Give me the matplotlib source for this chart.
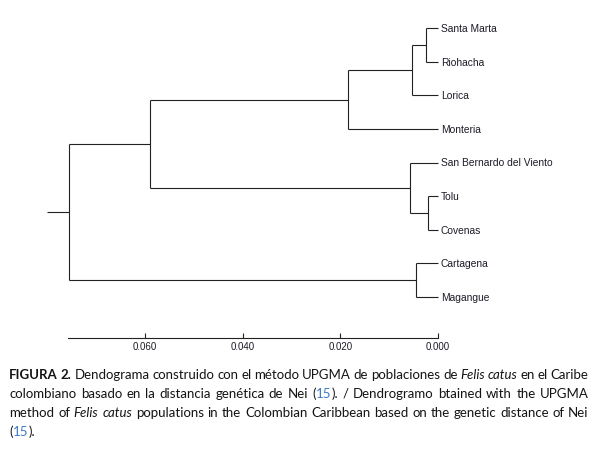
import matplotlib
matplotlib.use('Agg')
import matplotlib.pyplot as plt
from matplotlib.transforms import IdentityTransform

# ---------------- data ----------------
leaves = ["Santa Marta", "Riohacha", "Lorica", "Monteria",
          "San Bernardo del Viento", "Tolu", "Covenas", "Cartagena", "Magangue"]
# UPGMA merges: children indices (0..8 leaves, 9.. clusters in creation order), height (Nei distance)
merge_left = [0, 5, 7, 9, 4, 12, 14, 15]
merge_right = [1, 6, 8, 2, 10, 3, 13, 11]
merge_height = [0.00246, 0.00205, 0.00439, 0.0052, 0.00562, 0.01846, 0.0590, 0.0756]
root_stub = 0.0802
scale_ticks = [0.060, 0.040, 0.020, 0.000]
scale_start = 0.0758

# ---------------- layout ----------------
W, H, DPI = 599, 450, 100
ppu = 4875.0        # pixels per distance unit
x0_px = 437.7       # pixel of distance 0
top_px, step_px = 28.3, 33.55
axis_px = 338.0
line_col = '#222222'
lab_col = '#1c1c28'

fig = plt.figure(figsize=(W / DPI, H / DPI), dpi=DPI)
ax = fig.add_axes([0, 0, 1, 1])
ax.set_xlim(x0_px / ppu, (x0_px - W) / ppu)
ax.set_ylim((H - top_px) / step_px, -top_px / step_px)
ax.axis('off')

n = len(leaves)
ypos = {i: float(i) for i in range(n)}
hgt = {i: 0.0 for i in range(n)}
lw = 0.8
for k, (a, b, h) in enumerate(zip(merge_left, merge_right, merge_height)):
    node = n + k
    for c in (a, b):
        ax.plot([hgt[c], h], [ypos[c], ypos[c]], color=line_col, lw=lw, solid_capstyle='butt')
    ax.plot([h, h], [ypos[a], ypos[b]], color=line_col, lw=lw, solid_capstyle='butt')
    ypos[node] = (ypos[a] + ypos[b]) / 2
    hgt[node] = h
root = n + len(merge_height) - 1
ax.plot([hgt[root], root_stub], [ypos[root], ypos[root]], color=line_col, lw=lw, solid_capstyle='butt')

for i, name in enumerate(leaves):
    ax.annotate(name, xy=(0, i), xytext=(3, 0), textcoords='offset pixels',
                ha='left', va='center_baseline', fontsize=7.4,
                family='Liberation Sans', color=lab_col)

# ---------------- scale axis ----------------
ax2 = fig.add_axes([(x0_px - scale_start * ppu) / W, 1 - axis_px / H,
                    scale_start * ppu / W, 0.0001])
ax2.set_xlim(scale_start, 0)
for s in ('top', 'left', 'right'):
    ax2.spines[s].set_visible(False)
ax2.spines['bottom'].set_color(line_col)
ax2.spines['bottom'].set_linewidth(0.8)
ax2.set_yticks([])
ax2.set_xticks(scale_ticks)
ax2.set_xticklabels([f"{t:.3f}" for t in scale_ticks])
ax2.tick_params(axis='x', direction='in', length=3.5, width=0.8, color=line_col,
                labelsize=7.0, pad=2.8, labelcolor=lab_col)
for t in ax2.get_xticklabels():
    t.set_family('Liberation Sans')
ax2.patch.set_visible(False)

# ---------------- caption (justified) ----------------
cap_lines = [
    [("FIGURA 2.", 'bold'), (" Dendograma construido con el método UPGMA de poblaciones de ", 'normal'),
     ("Felis catus", 'italic'), (" en el Caribe", 'normal')],
    [("colombiano basado en la distancia genética de Nei (", 'normal'), ("15", 'blue'),
     ("). / Dendrogramo btained with the UPGMA", 'normal')],
    [("method of ", 'normal'), ("Felis catus", 'italic'),
     (" populations in the Colombian Caribbean based on the genetic distance of Nei", 'normal')],
    [("(", 'normal'), ("15", 'blue'), (").", 'normal')],
]
cap_x0, cap_x1 = 9.3, 588.7
baselines = [379.0, 398.0, 417.0, 436.0]
cap_font = 'Lato'
cap_col = '#141414'
blue = '#3a7bc8'

def style_kw(st, size):
    kw = dict(family=cap_font, fontsize=size, color=cap_col)
    if st == 'bold':
        kw['weight'] = 'bold'
    elif st == 'italic':
        kw['style'] = 'italic'
    elif st == 'blue':
        kw['color'] = blue
    return kw

def split_words(runs):
    words, cur = [], []
    for txt, st in runs:
        parts = txt.split(' ')
        for j, p in enumerate(parts):
            if j > 0 and cur:
                words.append(cur)
                cur = []
            if p:
                cur.append((p, st))
    if cur:
        words.append(cur)
    return words

renderer = fig.canvas.get_renderer()

def measure(s, st, size):
    t = fig.text(0, 0, s, transform=IdentityTransform(), **style_kw(st, size))
    w = t.get_window_extent(renderer).width
    t.remove()
    return w

size = 10.4
min_gap_frac = 0.75
for _ in range(4):
    maxw = 0
    sp = measure('a a', 'normal', size) - measure('aa', 'normal', size)
    for runs in cap_lines[:3]:
        ws = split_words(runs)
        tot = sum(measure(s, st, size) for wd in ws for s, st in wd)
        maxw = max(maxw, tot + sp * min_gap_frac * (len(ws) - 1))
    if maxw > (cap_x1 - cap_x0):
        size *= (cap_x1 - cap_x0) / maxw * 0.995
    else:
        break

space_w = measure('a a', 'normal', size) - measure('aa', 'normal', size)
for li, runs in enumerate(cap_lines):
    ws = split_words(runs)
    widths = [[measure(s, st, size) for s, st in wd] for wd in ws]
    tot = sum(sum(w) for w in widths)
    if li < len(cap_lines) - 1 and len(ws) > 1:
        gap = (cap_x1 - cap_x0 - tot) / (len(ws) - 1)
    else:
        gap = space_w
    x = cap_x0
    y = H - baselines[li]
    for wd, wl in zip(ws, widths):
        for (s, st), w in zip(wd, wl):
            fig.text(x, y, s, transform=IdentityTransform(), ha='left', va='baseline',
                     **style_kw(st, size))
            x += w
        x += gap

fig.savefig('out.png', dpi=DPI)
